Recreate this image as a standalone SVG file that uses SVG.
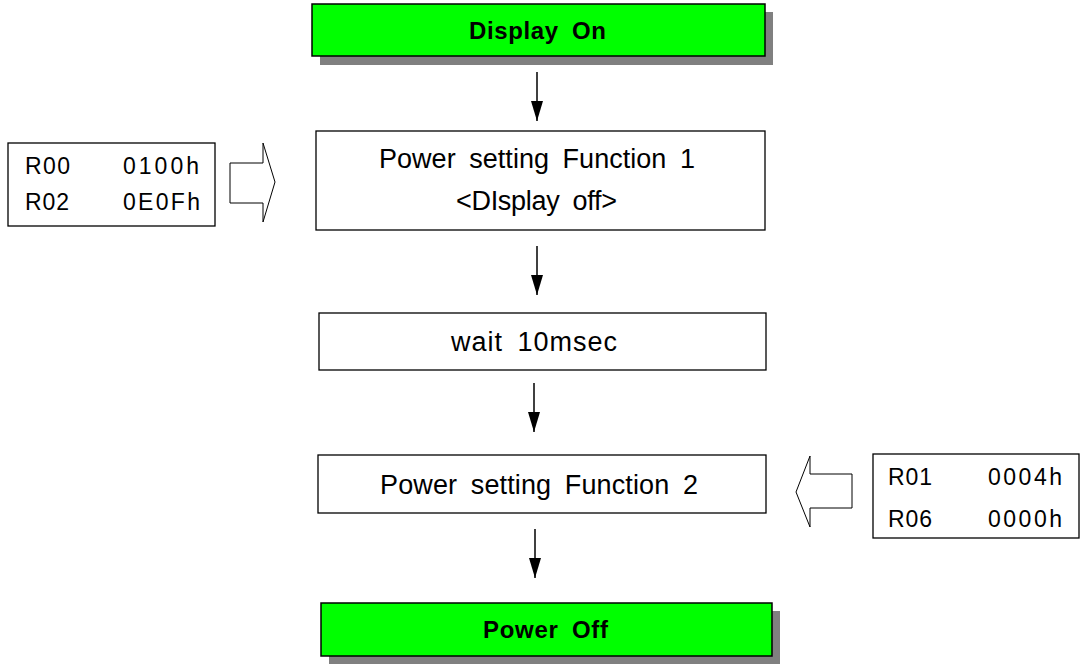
<svg xmlns="http://www.w3.org/2000/svg" width="1080" height="667" viewBox="0 0 1080 667">
<style>
.box{fill:#fff;stroke:#000;stroke-width:1.3}
.green{fill:#00ff00;stroke:#000;stroke-width:1.5}
.shadow{fill:#808080}
.t{font-family:"Liberation Sans",Arial,sans-serif;font-size:27px;word-spacing:6px;fill:#000}
.b{font-family:"Liberation Sans",Arial,sans-serif;font-size:24px;font-weight:bold;word-spacing:6px;fill:#000}
.r{font-family:"Liberation Sans",Arial,sans-serif;font-size:23px;fill:#000}
.conn{stroke:#000;stroke-width:1.5;fill:none}
.hollow{fill:#fff;stroke:#000;stroke-width:1}
</style>
<defs>
<marker id="ah" viewBox="0 0 20 12" refX="20" refY="6" markerWidth="20" markerHeight="12" markerUnits="userSpaceOnUse" orient="auto">
<path d="M0,0 L20,6 L0,12 Z" fill="#000"/>
</marker>
</defs>
<rect width="1080" height="667" fill="#fff"/>
<g id="display-on">
<rect class="shadow" x="320" y="12" width="453" height="53"/>
<rect class="green" x="312" y="4" width="453" height="52"/>
<text class="b" x="469" y="39" textLength="137">Display On</text>
</g>
<g id="power-setting-1">
<rect class="box" x="316" y="131" width="449" height="99"/>
<text class="t" x="379" y="168" textLength="316">Power setting Function 1</text>
<text class="t" x="456" y="210" textLength="161">&lt;DIsplay off&gt;</text>
</g>
<g id="wait">
<rect class="box" x="319" y="313" width="447" height="57"/>
<text class="t" x="451" y="351" textLength="166">wait 10msec</text>
</g>
<g id="power-setting-2">
<rect class="box" x="318" y="455" width="448" height="58"/>
<text class="t" x="380" y="494" textLength="318">Power setting Function 2</text>
</g>
<g id="power-off">
<rect class="shadow" x="329" y="611" width="451" height="53"/>
<rect class="green" x="321" y="603" width="451" height="53"/>
<text class="b" x="483" y="638" textLength="125">Power Off</text>
</g>
<g id="regs-left">
<rect class="box" x="8" y="143" width="207" height="83"/>
<text class="r" x="25" y="174" textLength="45">R00</text>
<text class="r" x="123" y="174" textLength="76">0100h</text>
<text class="r" x="25" y="210" textLength="44">R02</text>
<text class="r" x="123" y="210" textLength="77">0E0Fh</text>
</g>
<g id="regs-right">
<rect class="box" x="873" y="454" width="206" height="84"/>
<text class="r" x="888" y="485" textLength="44">R01</text>
<text class="r" x="988" y="485" textLength="74">0004h</text>
<text class="r" x="888" y="527" textLength="44">R06</text>
<text class="r" x="988" y="527" textLength="74">0000h</text>
</g>
<g id="connectors">
<line class="conn" x1="537" y1="72" x2="537" y2="121" marker-end="url(#ah)"/>
<line class="conn" x1="537" y1="246" x2="537" y2="295" marker-end="url(#ah)"/>
<line class="conn" x1="534" y1="383" x2="534" y2="432" marker-end="url(#ah)"/>
<line class="conn" x1="535" y1="529" x2="535" y2="578" marker-end="url(#ah)"/>
<polygon class="hollow" points="230,163 263,163 263,143 275,182 263,222 263,203 230,203"/>
<polygon class="hollow" points="852,474 810,474 810,456 796,492 810,527 810,508 852,508"/>
</g>
</svg>
